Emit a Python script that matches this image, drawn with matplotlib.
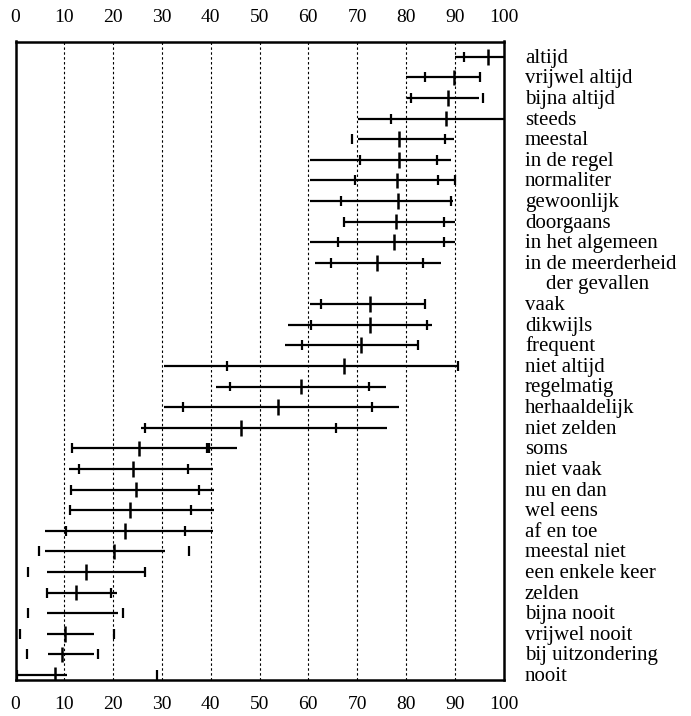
"""Ranges of frequency expressions on a 0-100 scale."""

import matplotlib.pyplot as plt

labels = [
    "altijd", "vrijwel altijd", "bijna altijd", "steeds", "meestal",
    "in de regel", "normaliter", "gewoonlijk", "doorgaans", "in het algemeen",
    "in de meerderheid", "vaak", "dikwijls", "frequent", "niet altijd",
    "regelmatig", "herhaaldelijk", "niet zelden", "soms", "niet vaak",
    "nu en dan", "wel eens", "af en toe", "meestal niet", "een enkele keer",
    "zelden", "bijna nooit", "vrijwel nooit", "bij uitzondering", "nooit",
]
# second line of the two-line label
label_extra = {10: "der gevallen"}

# row slot of each label (an empty slot follows the two-line label)
slots = list(range(0, 11)) + list(range(12, 31))

line_lo = [90.1, 80.1, 80.2, 70.2, 70.2, 60.3, 60.3, 60.3, 67.4, 60.3,
           61.3, 60.3, 55.8, 55.2, 30.5, 41.0, 30.5, 25.8, 11.5, 11.0,
           11.4, 11.2, 6.1, 6.1, 6.5, 6.5, 6.5, 6.5, 6.6, 0.3]
line_hi = [100.0, 95.2, 95.0, 100.0, 89.8, 89.3, 90.1, 89.6, 90.1, 90.1,
           87.1, 83.9, 85.3, 82.4, 90.7, 76.0, 78.5, 76.1, 45.4, 40.5,
           40.7, 40.6, 40.4, 30.6, 26.5, 20.9, 21.1, 16.1, 16.1, 10.6]
medians = [96.8, 89.8, 88.6, 88.3, 78.5, 78.5, 78.1, 78.3, 77.9, 77.5,
           74.1, 72.7, 72.6, 70.8, 67.3, 58.6, 53.7, 46.3, 25.4, 24.1,
           24.6, 23.4, 22.4, 20.2, 14.4, 12.4, None, 10.1, 9.5, 8.0]
small_ticks = [
    [92.0], [84.0, 95.2], [81.1, 95.7], [77.0], [69.0, 88.0],
    [70.5, 86.4], [69.5, 86.6, 90.1], [66.6, 89.3], [67.4, 87.8], [66.0, 87.9],
    [64.7, 83.6], [62.6, 83.9], [60.6, 84.3], [58.8, 82.4], [43.3, 90.7],
    [44.0, 72.4], [34.3, 73.1], [26.6, 65.7], [11.6, 39.2, 39.6], [13.1, 35.4],
    [11.4, 37.5], [11.2, 36.0], [10.3, 34.8], [4.8, 35.6], [2.5, 26.5],
    [6.5, 19.5], [2.5, 22.1], [0.9, 20.2], [2.3, 16.9], [0.3, 28.9],
]
ticks = [0, 10, 20, 30, 40, 50, 60, 70, 80, 90, 100]

serif = "Liberation Serif"

fig = plt.figure(figsize=(6.91, 7.16), dpi=100)
ax = fig.add_axes([15.5 / 691, 1 - 680 / 716, 488 / 691, 638.5 / 716])

for v in ticks[1:-1]:
    ax.axvline(v, color="black", lw=0.8, linestyle=(0, (2.2, 2.2)), zorder=1)

for i, y in enumerate(slots):
    ax.hlines(y, line_lo[i], line_hi[i], color="black", lw=1.6, zorder=2)
    ax.vlines(small_ticks[i], y - 0.24, y + 0.24, color="black", lw=1.6, zorder=3)
    if medians[i] is not None:
        ax.vlines(medians[i], y - 0.38, y + 0.38, color="black", lw=1.8, zorder=3)
    ax.text(104.4, y + 0.29, labels[i], fontsize=15, family=serif,
            va="baseline", ha="left", clip_on=False)
    if i in label_extra:
        ax.text(108.8, y + 1.29, label_extra[i], fontsize=15, family=serif,
                va="baseline", ha="left", clip_on=False)

ax.set_xlim(0, 100)
ax.set_ylim(30.24, -0.74)
ax.set_yticks([])
ax.set_xticks(ticks)
ax.set_xticklabels([str(t) for t in ticks], family=serif, fontsize=14)
ax.tick_params(axis="x", length=0, pad=11.5)

top = ax.secondary_xaxis("top")
top.set_xticks(ticks)
top.set_xticklabels([str(t) for t in ticks], family=serif, fontsize=14)
top.tick_params(axis="x", length=0, pad=11)
top.spines["top"].set_visible(False)

for spine in ax.spines.values():
    spine.set_linewidth(1.8)

fig.savefig("out.png", dpi=100)
